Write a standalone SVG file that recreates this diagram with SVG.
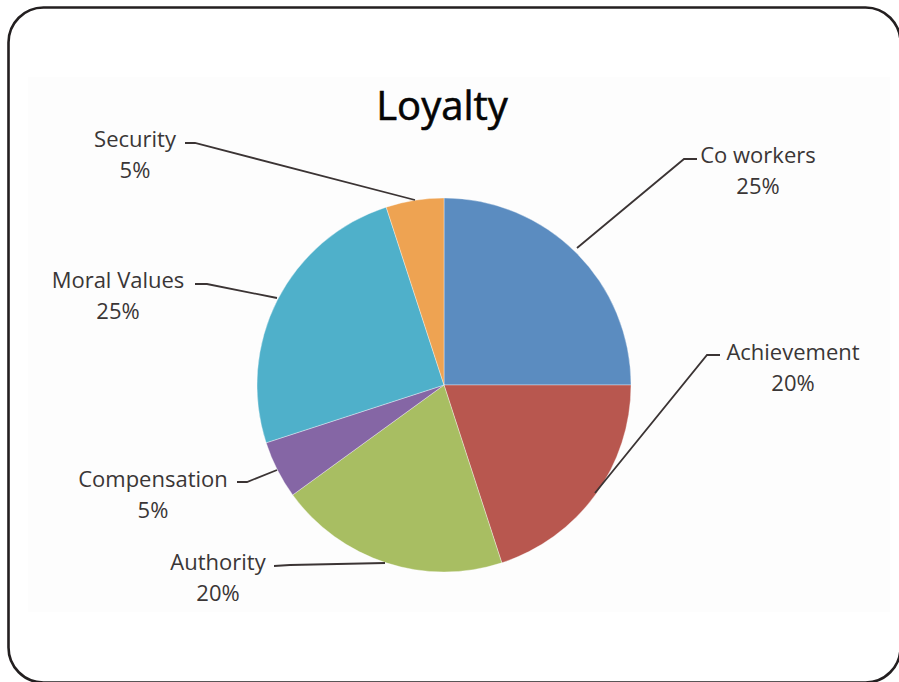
<svg xmlns="http://www.w3.org/2000/svg" width="899" height="682" viewBox="0 0 899 682">
  <style>
    .lbl { font-family: "Open Sans", "Liberation Sans", sans-serif; font-size: 22px; fill: #3a3636; text-anchor: middle; }
    .title { font-family: "Open Sans", "Liberation Sans", sans-serif; font-size: 40px; fill: #050505; stroke: #050505; stroke-width: 0.6; text-anchor: middle; }
    .lead { fill: none; stroke: #3b3434; stroke-width: 1.8; }
    .slice { stroke: #ffffff; stroke-width: 0.6; stroke-opacity: 0.6; }
  </style>
  <rect x="0" y="0" width="899" height="682" fill="#ffffff"/>
  <rect x="28" y="77" width="862" height="535" fill="#fdfdfd"/>
  <rect id="frame" x="8.5" y="7.5" width="892" height="675" rx="35" ry="35" fill="none" stroke="#231f20" stroke-width="2.6"/>
  <text class="title" x="442" y="120">Loyalty</text>

  <g id="pie">
    <g id="coworkers"><path class="slice" fill="#5b8cc0" d="M444,385 L444,198 A187,187 0 0 1 631,385 Z"/></g>
    <g id="achievement"><path class="slice" fill="#b8574f" d="M444,385 L631,385 A187,187 0 0 1 501.79,562.85 Z"/></g>
    <g id="authority"><path class="slice" fill="#a8be62" d="M444,385 L501.79,562.85 A187,187 0 0 1 292.71,494.92 Z"/></g>
    <g id="compensation"><path class="slice" fill="#8566a5" d="M444,385 L292.71,494.92 A187,187 0 0 1 266.15,442.79 Z"/></g>
    <g id="moralvalues"><path class="slice" fill="#4fb0ca" d="M444,385 L266.15,442.79 A187,187 0 0 1 386.21,207.15 Z"/></g>
    <g id="security"><path class="slice" fill="#eea352" d="M444,385 L386.21,207.15 A187,187 0 0 1 444,198 Z"/></g>
  </g>

  <g id="connectors">
    <polyline class="lead" points="185,143 195,143 415,200"/>
    <polyline class="lead" points="697,159 684,159 577,248"/>
    <polyline class="lead" points="720,355 707,355 595,493"/>
    <polyline class="lead" points="195,284 207,284 277,298"/>
    <polyline class="lead" points="237,482 247,482 277,470"/>
    <polyline class="lead" points="274,566 290,565 385,563"/>
  </g>

  <g id="label-security">
    <text class="lbl" x="135" y="147">Security</text>
    <text class="lbl" x="135" y="178">5%</text>
  </g>
  <g id="label-coworkers">
    <text class="lbl" x="758" y="163">Co workers</text>
    <text class="lbl" x="758" y="194">25%</text>
  </g>
  <g id="label-achievement">
    <text class="lbl" x="793" y="360">Achievement</text>
    <text class="lbl" x="793" y="391">20%</text>
  </g>
  <g id="label-moralvalues">
    <text class="lbl" x="118" y="288">Moral Values</text>
    <text class="lbl" x="118" y="319">25%</text>
  </g>
  <g id="label-compensation">
    <text class="lbl" x="153" y="487">Compensation</text>
    <text class="lbl" x="153" y="518">5%</text>
  </g>
  <g id="label-authority">
    <text class="lbl" x="218" y="570">Authority</text>
    <text class="lbl" x="218" y="601">20%</text>
  </g>
</svg>
